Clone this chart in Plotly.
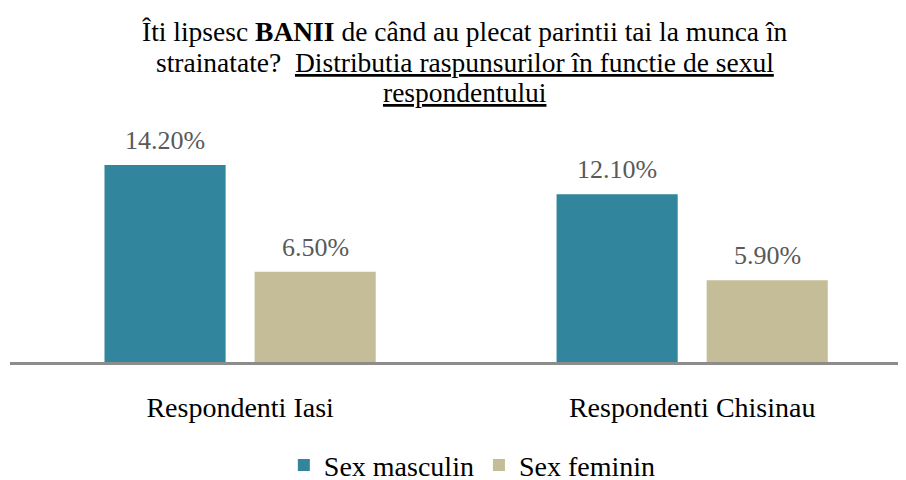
import plotly.graph_objects as go

categories = ["Respondenti Iasi", "Respondenti Chisinau"]
masculin = [14.2, 12.1]
feminin = [6.5, 5.9]
series_names = ["Sex masculin", "Sex feminin"]
colors = ["#31859C", "#C4BD97"]
title_lines = [
    "Îti lipsesc <b>BANII</b> de când au plecat parintii tai la munca în",
    "strainatate?  <u>Distributia raspunsurilor în functie de sexul</u>",
    "<u>respondentului</u>",
]

FONT = "Liberation Serif, Times New Roman, serif"

fig = go.Figure()
for name, vals, col in zip(series_names, [masculin, feminin], colors):
    fig.add_trace(go.Bar(x=categories, y=vals, name=name, marker_color=col,
                         marker_line_width=0))

annotations = []
for vals, shift in [(masculin, -75), (feminin, 75)]:
    for c, v in zip(categories, vals):
        annotations.append(dict(x=c, y=v, xref="x", yref="y", text=f"{v:.2f}%",
                                showarrow=False, yanchor="bottom", yshift=8, xshift=shift,
                                font=dict(family=FONT, size=26, color="#595959")))

for line, ypos in zip(title_lines, [1.313, 1.19, 1.0714]):
    annotations.append(dict(x=0.508, y=ypos, xref="paper", yref="paper", text=line,
                            showarrow=False, xanchor="center", yanchor="middle",
                            font=dict(family=FONT, size=27.5, color="black")))

fig.update_layout(
    width=898, height=472,
    paper_bgcolor="white", plot_bgcolor="white",
    margin=dict(l=2, r=0, t=102, b=118, autoexpand=False),
    barmode="group", bargap=0.336, bargroupgap=0.193,
    showlegend=True,
    legend=dict(orientation="h", x=0.516, xanchor="center", y=-0.41, yanchor="middle",
                font=dict(family=FONT, size=28, color="black"), traceorder="normal",
                itemwidth=30),
    annotations=annotations,
    xaxis=dict(range=[-0.509, 1.473], showgrid=False, showline=True,
               linecolor="#8C8C8C", linewidth=3, ticks="", ticklabelstandoff=18,
               tickfont=dict(family=FONT, size=28, color="black")),
    yaxis=dict(range=[0, 18.17], visible=False, showgrid=False, zeroline=False),
)

fig.write_html("out.html")
